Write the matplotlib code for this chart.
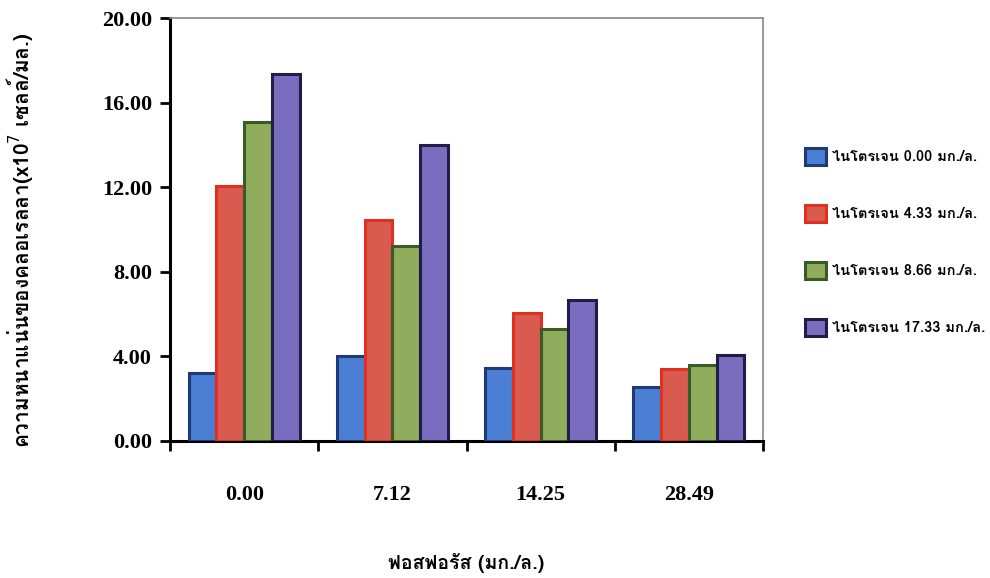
import matplotlib
matplotlib.use("Agg")
import matplotlib.pyplot as plt
from matplotlib import font_manager
from matplotlib.ft2font import FT2Font
from matplotlib.patches import Patch
import numpy as np

categories = ["0.00", "7.12", "14.25", "28.49"]
series_labels = ["ไนโตรเจน 0.00 มก./ล.", "ไนโตรเจน 4.33 มก./ล.",
                 "ไนโตรเจน 8.66 มก./ล.", "ไนโตรเจน 17.33 มก./ล."]
n0_00 = [3.21, 4.03, 3.47, 2.57]
n4_33 = [12.05, 10.44, 6.05, 3.41]
n8_66 = [15.08, 9.20, 5.29, 3.59]
n17_33 = [17.37, 13.98, 6.65, 4.08]
y_ticks = [0, 4, 8, 12, 16, 20]
y_label = "ความหนาแน่นของคลอเรลลา(x10$^{7}$ เซลล์/มล.)"
x_label = "ฟอสฟอรัส (มก./ล.)"

# find a font with Thai glyphs, if any is installed
thai_family = None
for fe in font_manager.fontManager.ttflist:
    try:
        if 0x0E44 in FT2Font(fe.fname).get_charmap():
            thai_family = fe.name
            if "Bold" in fe.fname or fe.weight in ("bold", 700):
                break
    except Exception:
        pass
thai_fams = ([thai_family] if thai_family else []) + ["Liberation Serif", "DejaVu Sans"]

fills = ["#4A7FD4", "#D95A4F", "#8FAD5C", "#7A6CBF"]
edges = ["#1F3A78", "#E0301F", "#3A5A26", "#1E1E48"]

fig = plt.figure(figsize=(9.9, 5.78), dpi=100)
ax = fig.add_axes([170/990, 1-441/578, 593/990, 423/578])

values = [n0_00, n4_33, n8_66, n17_33]
x = np.arange(len(categories))
w = 0.1875
for j, vals in enumerate(values):
    ax.bar(x + (j - 1.5) * w, vals, width=w, color=fills[j], edgecolor=edges[j],
           linewidth=2.2, zorder=3)

ax.set_xlim(-0.5, 3.5)
ax.set_ylim(0, 20)
ax.set_yticks(y_ticks)
ax.set_yticklabels([f"{v:.2f}" for v in y_ticks], fontfamily="Liberation Serif",
                   fontweight="bold", fontsize=16)
ax.set_xticks(x)
ax.set_xticklabels(categories, fontfamily="Liberation Serif", fontweight="bold", fontsize=16)
ax.set_xticks(np.arange(-0.5, 4.0, 1.0), minor=True)
ax.tick_params(axis="x", which="major", length=0, pad=32)
ax.tick_params(axis="x", which="minor", length=7, width=2, direction="out", color="black")
ax.tick_params(axis="y", which="major", length=7, width=2, direction="out", pad=6)

for s in ["left", "bottom"]:
    ax.spines[s].set_linewidth(2.2)
    ax.spines[s].set_color("black")
for s in ["top", "right"]:
    ax.spines[s].set_linewidth(1.2)
    ax.spines[s].set_color("#888888")

fig.text(20/990, 1-240/578, y_label, rotation=90, ha="center", va="center",
         fontsize=15, fontweight="bold", family=thai_fams)
fig.text(466/990, 1-563/578, x_label, ha="center", va="center",
         fontsize=14, fontweight="bold", family=thai_fams)

handles = [Patch(facecolor=fills[j], edgecolor=edges[j], linewidth=2.2) for j in range(4)]
leg = fig.legend(handles, series_labels, loc="upper left",
                 bbox_to_anchor=(792/990, 1-135/578), frameon=False,
                 labelspacing=2.75, handlelength=1.4, handleheight=1.4, handletextpad=0.45,
                 prop={"family": thai_fams, "size": 10.5, "weight": "bold"})

fig.savefig("out.png", dpi=100)
